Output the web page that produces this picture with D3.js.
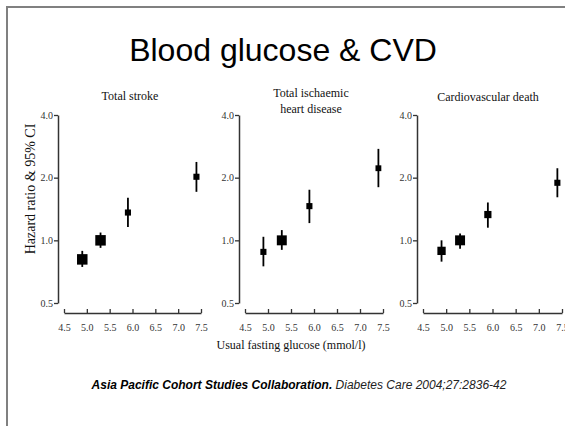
<!DOCTYPE html>
<html><head><meta charset="utf-8">
<script src="https://cdn.jsdelivr.net/npm/d3@7"></script>
<style>
html,body{margin:0;padding:0;background:#fff;}
svg{display:block;}
</style>
</head><body>
<svg id="chart" width="565" height="426"></svg>
<script>
// ---- Data ----
const glucose = [4.9, 5.3, 5.9, 7.4];
const panelTitles = [["Total stroke"], ["Total ischaemic", "heart disease"], ["Cardiovascular death"]];
const strokeHR = [0.81, 1.00, 1.36, 2.02];
const strokeLo = [0.745, 0.92, 1.16, 1.71];
const strokeHi = [0.89, 1.09, 1.60, 2.38];
const strokeWeight = [1.0, 1.0, 0.2, 0.2];
const ihdHR = [0.88, 1.00, 1.46, 2.22];
const ihdLo = [0.75, 0.90, 1.21, 1.80];
const ihdHi = [1.04, 1.12, 1.75, 2.75];
const ihdWeight = [0.2, 0.9, 0.2, 0.15];
const cvdHR = [0.89, 1.00, 1.33, 1.89];
const cvdLo = [0.79, 0.91, 1.15, 1.61];
const cvdHi = [1.00, 1.08, 1.52, 2.22];
const cvdWeight = [0.6, 0.9, 0.4, 0.2];
const yTicks = [0.5, 1.0, 2.0, 4.0];
const xTicks = [4.5, 5.0, 5.5, 6.0, 6.5, 7.0, 7.5];

const series = [
  {hr: strokeHR, lo: strokeLo, hi: strokeHi, w: strokeWeight},
  {hr: ihdHR, lo: ihdLo, hi: ihdHi, w: ihdWeight},
  {hr: cvdHR, lo: cvdLo, hi: cvdHi, w: cvdWeight}
];

// ---- Layout ----
const svg = d3.select("#chart");
const panelLayout = [
  {yAxisX: 58, x0: 64, x1: 201, titleX: 130, titleY: [100]},
  {yAxisX: 239, x0: 245, x1: 383, titleX: 311, titleY: [97, 113]},
  {yAxisX: 417, x0: 423, x1: 562, titleX: 488, titleY: [101]}
];
const yTop = 115, yBot = 303, xAxisY = 313;
const sizeScale = d3.scaleLinear().domain([0, 1]).range([5, 10.5]);

// Frame
svg.append("line").attr("x1", 7).attr("y1", 7).attr("x2", 565).attr("y2", 7)
  .attr("stroke", "#808080").attr("stroke-width", 2);
svg.append("line").attr("x1", 7).attr("y1", 6).attr("x2", 7).attr("y2", 426)
  .attr("stroke", "#808080").attr("stroke-width", 2);

// Title
svg.append("text").attr("x", 283).attr("y", 61).attr("text-anchor", "middle")
  .style("font-family", "'Liberation Sans', Arial, sans-serif").style("font-size", "32px")
  .attr("fill", "#000").text("Blood glucose & CVD");

const y = d3.scaleLog().base(2).domain([0.5, 4]).range([yBot, yTop]);

panelLayout.forEach((p, i) => {
  const g = svg.append("g");
  const x = d3.scaleLinear().domain([4.5, 7.5]).range([p.x0, p.x1]);
  const s = series[i];

  // y axis
  const ya = g.append("g").attr("transform", `translate(${p.yAxisX},0)`)
    .call(d3.axisLeft(y).tickValues(yTicks).tickFormat(d3.format(".1f")).tickSize(4).tickPadding(1).tickSizeOuter(0));
  // x axis
  const xa = g.append("g").attr("transform", `translate(0,${xAxisY})`)
    .call(d3.axisBottom(x).tickValues(xTicks).tickFormat(d3.format(".1f")).tickSize(-4).tickPadding(11).tickSizeOuter(0));
  [ya, xa].forEach(a => {
    a.select(".domain").attr("stroke", "#333").attr("stroke-width", 1.5);
    a.selectAll(".tick line").attr("stroke", "#333").attr("stroke-width", 1.3);
    a.selectAll(".tick text").attr("fill", "#333")
      .style("font-family", "'Liberation Serif', 'Times New Roman', serif").style("font-size", "10px");
  });

  // panel title
  panelTitles[i].forEach((t, j) => {
    g.append("text").attr("x", p.titleX).attr("y", p.titleY[j]).attr("text-anchor", "middle")
      .style("font-family", "'Liberation Serif', 'Times New Roman', serif").style("font-size", "12px")
      .attr("fill", "#111").text(t);
  });

  // error bars
  g.selectAll("line.ci").data(glucose).enter().append("line").attr("class", "ci")
    .attr("x1", d => x(d)).attr("x2", d => x(d))
    .attr("y1", (d, k) => y(s.lo[k])).attr("y2", (d, k) => y(s.hi[k]))
    .attr("stroke", "#000").attr("stroke-width", 1.8);
  // squares
  g.selectAll("rect.pt").data(glucose).enter().append("rect").attr("class", "pt")
    .attr("x", (d, k) => x(d) - sizeScale(s.w[k]) / 2)
    .attr("y", (d, k) => y(s.hr[k]) - sizeScale(s.w[k]) / 2)
    .attr("width", (d, k) => sizeScale(s.w[k]))
    .attr("height", (d, k) => sizeScale(s.w[k]))
    .attr("fill", "#000");
});

// y label
svg.append("text").attr("transform", "translate(35,189) rotate(-90)").attr("text-anchor", "middle")
  .style("font-family", "'Liberation Serif', 'Times New Roman', serif").style("font-size", "14px")
  .attr("fill", "#111").text("Hazard ratio & 95% CI");

// x label
svg.append("text").attr("x", 291).attr("y", 349).attr("text-anchor", "middle")
  .style("font-family", "'Liberation Serif', 'Times New Roman', serif").style("font-size", "12px")
  .attr("fill", "#111").text("Usual fasting glucose (mmol/l)");

// citation
const cit = svg.append("text").attr("x", 299).attr("y", 389).attr("text-anchor", "middle")
  .style("font-family", "'Liberation Sans', Arial, sans-serif").style("font-size", "12px")
  .style("font-style", "italic").attr("fill", "#000");
cit.append("tspan").style("font-weight", "bold").text("Asia Pacific Cohort Studies Collaboration.");
cit.append("tspan").attr("fill", "#222").text(" Diabetes Care 2004;27:2836-42");
</script>
</body></html>
